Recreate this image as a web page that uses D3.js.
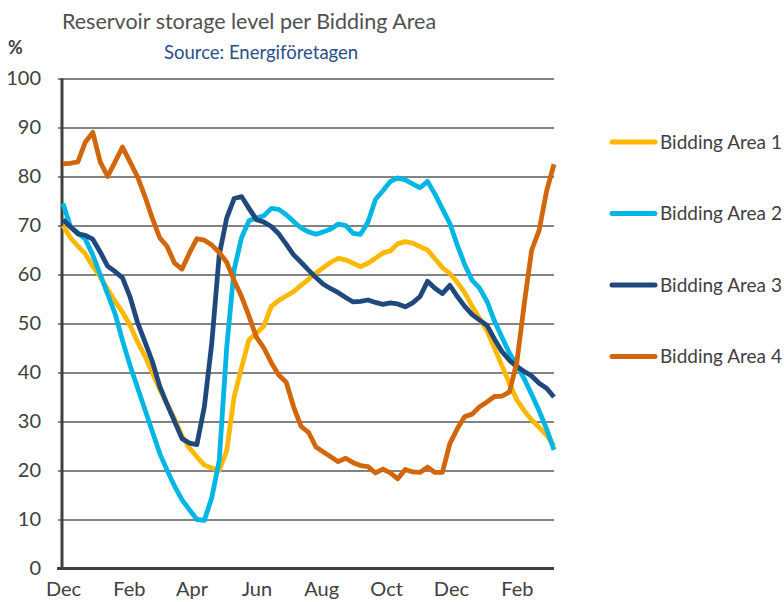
<!DOCTYPE html>
<html>
<head>
<meta charset="utf-8">
<script src="https://cdn.jsdelivr.net/npm/d3@7"></script>
<style>
  body { margin: 0; background: #fff; }
  text { font-family: Lato, "Noto Sans", sans-serif; fill: #404040; }
</style>
</head>
<body>
<div id="wrapper"></div>
<script>
// weekly observations, first week starting 1 Dec
const startDate = new Date(2021, 11, 1)
const endDate = new Date(2023, 2, 8)
const weekCount = 67

const seriesNames = ["Bidding Area 1", "Bidding Area 2", "Bidding Area 3", "Bidding Area 4"]
const seriesColors = ["#FFB800", "#00B6E4", "#1F497D", "#D2660A"]

const area1 = [70, 67.5, 65.8, 64.2, 61.7, 59.5, 57, 54.5, 52.3, 49.7, 46.3, 43.4, 40, 36.6, 33.5, 30.5, 27, 24.6, 22.8, 21.1,
  20.5, 20, 24, 35, 41, 46.7, 48, 49.5, 53.5, 54.7, 55.6, 56.5, 57.8, 59, 60.3, 61.4, 62.5, 63.3, 63, 62.3,
  61.6, 62.3, 63.3, 64.4, 64.8, 66.3, 66.7, 66.4, 65.7, 65, 63.2, 61.4, 60.2, 58.4, 56.3, 53.5, 51, 48.5, 45, 41.4,
  37.8, 34.4, 32.2, 30.3, 28.8, 27.2, 25]
const area2 = [74.5, 69.8, 68.5, 67.2, 64, 60, 56, 52, 46.5, 41.5, 37, 32.5, 28, 23.5, 20, 16.8, 14, 12, 10, 9.8,
  14.5, 22, 45, 61, 67.5, 71, 71.5, 72, 73.5, 73.3, 72.2, 70.8, 69.5, 68.7, 68.2, 68.7, 69.3, 70.3, 70, 68.4,
  68.2, 70.7, 75.3, 77.1, 79, 79.7, 79.3, 78.5, 77.7, 79, 76.4, 73.4, 70.4, 66, 62, 58.8, 57.2, 54.5, 50.5, 47.2,
  44, 41.5, 38.7, 35.5, 32.2, 28.5, 24.2]
const area3 = [71.2, 69.7, 68.3, 68, 67.2, 64.6, 61.7, 60.6, 59.3, 55.5, 50.3, 46.3, 42.3, 37.2, 33.5, 30, 26.5, 25.6, 25.3, 33,
  46, 64, 71.5, 75.5, 75.9, 73.5, 71.2, 70.7, 69.8, 68.3, 66.2, 64, 62.5, 60.9, 59.4, 58, 57.1, 56.3, 55.3, 54.4,
  54.5, 54.8, 54.3, 53.9, 54.2, 54, 53.4, 54.2, 55.5, 58.6, 57.2, 56.1, 57.8, 55.5, 53.5, 51.8, 50.7, 49.6, 46.8, 44.3,
  42.5, 41.2, 40.2, 39.3, 37.8, 36.8, 35]
const area4 = [82.6, 82.7, 83, 87, 89, 83, 80, 83, 86, 83, 80, 76, 71.5, 67.5, 65.7, 62.3, 61.1, 64.4, 67.3, 67,
  66, 64.5, 62.5, 58.8, 55.5, 51.5, 47.2, 45, 42, 39.5, 38, 33, 29, 27.8, 24.8, 23.8, 22.8, 21.8, 22.5, 21.6,
  21, 20.8, 19.5, 20.3, 19.5, 18.3, 20.2, 19.7, 19.6, 20.7, 19.6, 19.6, 25.5, 28.5, 31, 31.5, 33, 34, 35.1, 35.2,
  36, 42, 54, 65, 69, 77, 82.5]

const yTicks = [0, 10, 20, 30, 40, 50, 60, 70, 80, 90, 100]
const monthTicks = [
  new Date(2021, 11, 1), new Date(2022, 1, 1), new Date(2022, 3, 1), new Date(2022, 5, 1),
  new Date(2022, 7, 1), new Date(2022, 9, 1), new Date(2022, 11, 1), new Date(2023, 1, 1),
]

const weeks = d3.range(weekCount).map(i => d3.timeDay.offset(startDate, i * 7))

function drawChart() {
  const dimensions = {
    width: 784,
    height: 602,
    margin: { top: 78.5, right: 230, bottom: 33.5, left: 63 },
  }
  dimensions.boundedWidth = dimensions.width - dimensions.margin.left - dimensions.margin.right
  dimensions.boundedHeight = dimensions.height - dimensions.margin.top - dimensions.margin.bottom

  const wrapper = d3.select("#wrapper")
    .append("svg")
    .attr("width", dimensions.width)
    .attr("height", dimensions.height)

  wrapper.append("text")
    .attr("x", 62)
    .attr("y", 29)
    .attr("font-size", 21.5)
    .style("fill", "#505050")
    .text("Reservoir storage level per Bidding Area")

  wrapper.append("text")
    .attr("x", 164)
    .attr("y", 59)
    .attr("font-size", 18.5)
    .style("fill", "#2A4F86")
    .text("Source: Energiföretagen")

  wrapper.append("text")
    .attr("x", 8)
    .attr("y", 54)
    .attr("font-size", 18)
    .attr("font-weight", "bold")
    .text("%")

  const bounds = wrapper.append("g")
    .attr("transform", `translate(${dimensions.margin.left}, ${dimensions.margin.top})`)

  const xScaler = d3.scaleTime()
    .domain([startDate, endDate])
    .range([0, dimensions.boundedWidth])

  const yScaler = d3.scaleLinear()
    .domain([0, 100])
    .range([dimensions.boundedHeight, 0])

  // gridlines
  const yAxis = bounds.append("g")
    .call(d3.axisLeft(yScaler)
      .tickValues(yTicks)
      .tickSize(-dimensions.boundedWidth)
      .tickPadding(22))
  yAxis.select(".domain").remove()
  yAxis.selectAll(".tick line")
    .attr("stroke", "#5a5a5a")
    .attr("stroke-width", 1.5)
    .attr("x1", -5)
  yAxis.selectAll(".tick text")
    .attr("font-size", 20)
    .attr("font-family", "Lato, sans-serif")
    .style("fill", "#404040")

  // month labels sit low, just inside the bottom edge
  const xAxis = bounds.append("g")
    .attr("transform", `translate(0, ${dimensions.boundedHeight})`)
    .call(d3.axisBottom(xScaler)
      .tickValues(monthTicks)
      .tickFormat(d3.timeFormat("%b"))
      .tickSize(0)
      .tickPadding(13))
  xAxis.select(".domain").remove()
  xAxis.selectAll(".tick text")
    .attr("font-size", 20)
    .attr("font-family", "Lato, sans-serif")
    .style("fill", "#404040")

  // axis lines
  bounds.append("line")
    .attr("x1", -1)
    .attr("x2", -1)
    .attr("y1", 0)
    .attr("y2", dimensions.boundedHeight)
    .attr("stroke", "#404040")
    .attr("stroke-width", 3)
  bounds.append("line")
    .attr("x1", -6)
    .attr("x2", dimensions.boundedWidth)
    .attr("y1", dimensions.boundedHeight)
    .attr("y2", dimensions.boundedHeight)
    .attr("stroke", "#404040")
    .attr("stroke-width", 3)

  const allSeries = [area1, area2, area3, area4]
  const lineGenerator = d3.line()
    .x((d, i) => xScaler(weeks[i]))
    .y(d => yScaler(d))

  bounds.selectAll(".series")
    .data(allSeries)
    .join("path")
    .attr("class", "series")
    .attr("d", lineGenerator)
    .attr("fill", "none")
    .attr("stroke", (d, i) => seriesColors[i])
    .attr("stroke-width", 4.8)
    .attr("stroke-linejoin", "round")

  // legend
  const legend = wrapper.append("g")
    .attr("transform", "translate(610, 142)")
  const items = legend.selectAll("g")
    .data(seriesNames)
    .join("g")
    .attr("transform", (d, i) => `translate(0, ${i * 71.5})`)
  items.append("line")
    .attr("x1", 2)
    .attr("x2", 45)
    .attr("stroke", (d, i) => seriesColors[i])
    .attr("stroke-width", 5)
    .attr("stroke-linecap", "round")
  items.append("text")
    .attr("x", 50)
    .attr("y", 6.5)
    .attr("font-size", 19)
    .text(d => d)
}

drawChart()
</script>
</body>
</html>
